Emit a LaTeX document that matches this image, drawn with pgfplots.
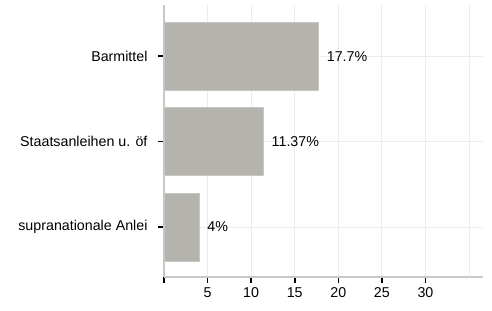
\documentclass[border=0pt]{standalone}
\usepackage{pgfplots}
\pgfplotsset{compat=1.18}
\usepackage{fontspec}
\setmainfont{Liberation Sans}
\definecolor{barfill}{RGB}{180,179,174}
\definecolor{baredge}{RGB}{200,199,195}
\definecolor{axisgray}{RGB}{200,200,200}
\definecolor{gridgray}{RGB}{236,236,236}
\begin{document}
\begin{tikzpicture}
\path[use as bounding box] (-164bp,-34bp) rectangle (328bp,277bp);
\begin{axis}[
  at={(0,0)}, anchor=south west,
  scale only axis, width=319bp, height=272bp,
  xbar, bar width=68bp,
  xmin=0, xmax=36.6,
  ymin=-0.585, ymax=2.6,
  axis x line=bottom, axis y line=left,
  axis line style={-, draw=axisgray, line width=1.2pt},
  xtick={0,5,10,15,20,25,30},
  xticklabels={,5,10,15,20,25,30},
  extra x ticks={35}, extra x tick labels={},
  extra x tick style={major tick length=0pt, grid=major},
  ytick={0,1,2},
  yticklabels={supranationale Anlei,Staatsanleihen u. öf,Barmittel},
  tick align=outside,
  major tick length=6bp,
  tick style={black, line width=1.6bp},
  xmajorgrids, ymajorgrids,
  grid style={gridgray, line width=0.8pt},
  tick label style={font=\fontsize{14.3}{16}\selectfont},
  xticklabel style={yshift=-1bp},
  yticklabel style={xshift=-7bp},
  point meta=explicit symbolic,
  nodes near coords,
  nodes near coords style={font=\fontsize{14.3}{16}\selectfont, black, anchor=west, xshift=5bp},
]
\addplot[fill=barfill, draw=baredge, line width=0.6pt] coordinates {
  (4,0) [4\%]
  (11.37,1) [11.37\%]
  (17.7,2) [17.7\%]
};
\end{axis}
\end{tikzpicture}
\end{document}
